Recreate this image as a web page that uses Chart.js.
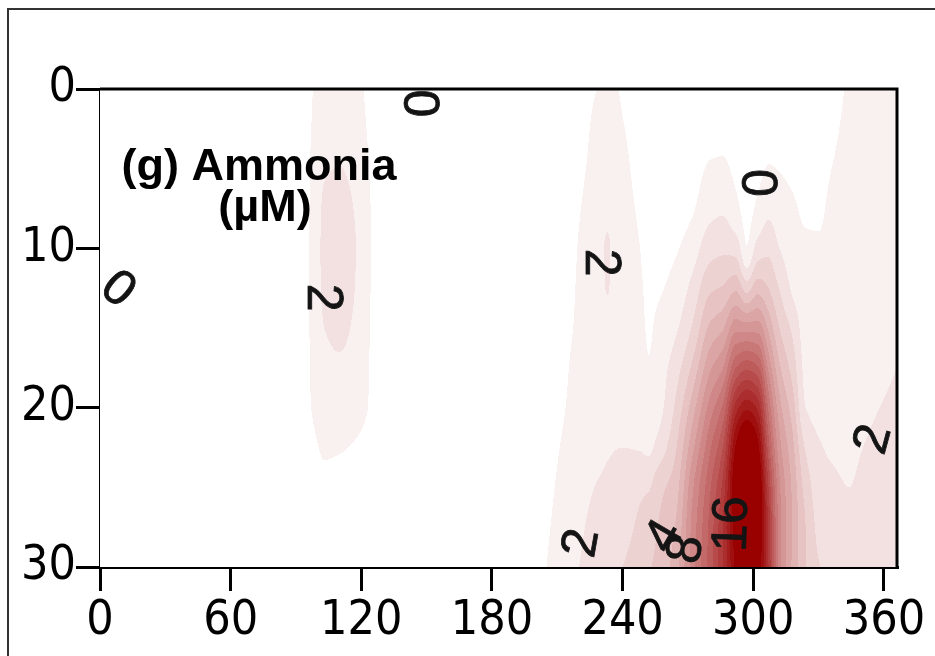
<!DOCTYPE html>
<html>
<head>
<meta charset="utf-8">
<script src="https://cdn.jsdelivr.net/npm/chart.js@4.4.0/dist/chart.umd.min.js"></script>
<style>
    html, body { margin: 0; padding: 0; background: #fff; }
    #wrap { position: relative; width: 935px; height: 656px; }
</style>
</head>
<body>
<div id="wrap"><canvas id="chart" width="935" height="656"></canvas></div>
<script>
// day of year (columns of the section)
const days = [0, 30, 60, 90, 97, 103, 110, 117, 123, 130, 160, 190, 205, 212, 220, 227, 233, 240, 248, 252,
    256, 264, 272, 280, 286, 292, 297, 302, 307, 312, 318, 324, 330, 336, 344, 352, 360, 366];
// depth (m), top to bottom
const depths = [0, 2.5, 5, 7.5, 10, 12.5, 15, 17.5, 20, 22.5, 25, 27.5, 30];
// ammonia (uM) for each day column, one value per depth
const ammonia = [
    [0.3, 0.3, 0.3, 0.3, 0.3, 0.3, 0.3, 0.3, 0.3, 0.3, 0.3, 0.3, 0.3],
    [0.4, 0.4, 0.4, 0.4, 0.4, 0.4, 0.4, 0.4, 0.4, 0.4, 0.4, 0.4, 0.4],
    [0.4, 0.4, 0.4, 0.4, 0.4, 0.4, 0.4, 0.4, 0.4, 0.4, 0.4, 0.4, 0.4],
    [0.6, 0.6, 0.6, 0.6, 0.6, 0.6, 0.6, 0.6, 0.6, 0.6, 0.6, 0.6, 0.6],
    [0.95, 1.0, 1.05, 1.08, 1.1, 1.1, 1.08, 1.05, 1.0, 0.8, 0.6, 0.5, 0.5],
    [1.4, 1.6, 1.9, 2.15, 2.25, 2.2, 2.0, 1.7, 1.4, 1.1, 0.8, 0.6, 0.5],
    [1.6, 1.8, 2.02, 2.3, 2.45, 2.4, 2.2, 1.85, 1.45, 1.05, 0.8, 0.6, 0.5],
    [1.3, 1.5, 1.75, 1.95, 2.05, 2.0, 1.85, 1.55, 1.25, 0.95, 0.7, 0.55, 0.5],
    [0.85, 0.95, 1.05, 1.15, 1.2, 1.15, 1.1, 1.05, 1.0, 0.8, 0.6, 0.5, 0.5],
    [0.5, 0.5, 0.5, 0.5, 0.5, 0.5, 0.5, 0.5, 0.5, 0.5, 0.5, 0.5, 0.5],
    [0.4, 0.4, 0.4, 0.4, 0.4, 0.4, 0.4, 0.4, 0.4, 0.4, 0.4, 0.4, 0.4],
    [0.4, 0.4, 0.4, 0.4, 0.4, 0.4, 0.4, 0.4, 0.4, 0.4, 0.4, 0.4, 0.4],
    [0.5, 0.5, 0.5, 0.5, 0.5, 0.5, 0.5, 0.5, 0.6, 0.7, 0.8, 0.9, 1.0],
    [0.55, 0.55, 0.6, 0.6, 0.65, 0.7, 0.75, 0.8, 0.9, 1.05, 1.2, 1.35, 1.5],
    [0.6, 0.65, 0.8, 0.95, 1.05, 1.1, 1.15, 1.3, 1.4, 1.55, 1.7, 1.85, 2.0],
    [0.95, 1.15, 1.3, 1.45, 1.6, 1.6, 1.6, 1.65, 1.75, 1.85, 2.0, 2.2, 2.4],
    [1.2, 1.4, 1.6, 1.85, 2.05, 2.02, 1.8, 1.75, 1.8, 1.95, 2.1, 2.35, 2.6],
    [0.9, 1.05, 1.2, 1.3, 1.4, 1.45, 1.5, 1.6, 1.8, 2.0, 2.3, 2.7, 3.0],
    [0.55, 0.65, 0.75, 0.88, 1.0, 1.1, 1.2, 1.4, 1.65, 1.95, 2.8, 3.2, 3.4],
    [0.4, 0.45, 0.55, 0.65, 0.75, 0.85, 0.92, 1.05, 1.3, 1.8, 2.9, 3.6, 3.9],
    [0.3, 0.35, 0.45, 0.55, 0.7, 0.9, 1.15, 1.4, 1.6, 2.3, 3.6, 4.0, 4.2],
    [0.25, 0.3, 0.4, 0.6, 0.9, 1.3, 1.8, 2.5, 3.1, 3.8, 4.5, 5.0, 5.5],
    [0.3, 0.4, 0.6, 0.9, 1.5, 2.3, 3.1, 4.2, 5.5, 6.7, 7.8, 8.3, 8.5],
    [0.5, 0.7, 1.1, 1.7, 2.6, 3.8, 5.2, 6.8, 8.4, 9.8, 10.8, 11.3, 11.5],
    [0.5, 0.75, 1.15, 1.85, 2.8, 4.1, 5.9, 8.0, 10.2, 12.0, 13.3, 14.0, 14.0],
    [0.35, 0.5, 0.8, 1.25, 2.6, 4.8, 7.7, 11.0, 14.5, 17.2, 18.5, 18.0, 17.5],
    [0.25, 0.35, 0.5, 0.7, 1.05, 3.6, 7.6, 11.8, 15.8, 19.5, 22.0, 22.0, 21.0],
    [0.3, 0.45, 0.75, 1.2, 2.4, 4.6, 7.6, 11.2, 14.8, 17.5, 19.0, 19.0, 18.0],
    [0.45, 0.7, 1.05, 1.75, 2.75, 4.0, 5.8, 7.8, 9.8, 11.5, 13.0, 13.8, 14.0],
    [0.4, 0.6, 0.97, 1.4, 2.0, 2.95, 4.0, 5.2, 6.4, 7.4, 8.2, 8.5, 8.5],
    [0.35, 0.5, 0.8, 1.15, 1.5, 1.85, 2.8, 3.6, 4.5, 5.3, 5.8, 6.0, 5.8],
    [0.35, 0.45, 0.6, 0.85, 1.15, 1.35, 1.55, 1.75, 2.0, 2.9, 3.6, 4.0, 4.0],
    [0.4, 0.5, 0.65, 0.85, 1.1, 1.25, 1.4, 1.55, 1.75, 2.1, 2.5, 2.8, 3.05],
    [0.6, 0.8, 1.0, 1.2, 1.3, 1.4, 1.5, 1.6, 1.75, 1.9, 2.2, 2.6, 2.8],
    [1.1, 1.2, 1.3, 1.35, 1.4, 1.45, 1.5, 1.6, 1.7, 1.85, 2.0, 2.4, 2.6],
    [1.2, 1.3, 1.35, 1.4, 1.45, 1.5, 1.6, 1.7, 1.85, 2.05, 2.3, 2.5, 2.6],
    [1.25, 1.35, 1.4, 1.45, 1.5, 1.6, 1.7, 1.85, 2.05, 2.3, 2.5, 2.6, 2.7],
    [1.3, 1.4, 1.45, 1.5, 1.6, 1.7, 1.8, 2.0, 2.2, 2.4, 2.6, 2.7, 2.8],
];
// contour levels (one colour band between each pair)
const levels = [0, 1, 2, 3, 4, 5, 6, 7, 8, 9, 10, 11, 12, 13, 14, 15, 16, 17];
// contour labels
const labelText = ['0', '0', '2', '2', '0', '2', '2', '4', '8', '16'];
const labelDays = [146, 8, 102, 229.5, 301, 355.5, 221.5, 259.5, 269.5, 290.5];
const labelDepths = [0.9, 12.6, 13.1, 10.9, 5.9, 22, 28.5, 28.1, 28.9, 27.3];
const labelAngles = [90, 40, 90, 90, 90, -75, -80, -60, -80, -88];
// axis ticks
const xTicks = [0, 60, 120, 180, 240, 300, 360];
const yTicks = [0, 10, 20, 30];

// band colours: white for the lowest band, then towards dark red
const lowColor = [255, 255, 255];
const highColor = [153, 0, 0];
const bandColors = levels.map((lv, i) => {
    let t = i / (levels.length - 1);
    return lowColor.map((c, k) => Math.round(c + (highColor[k] - c) * t));
});

// monotone cubic slopes
function getSlopes(xs, vs) {
    let n = xs.length;
    let d = [];
    let m = new Array(n);
    for (let i = 0; i < n - 1; i++) d.push((vs[i + 1] - vs[i]) / (xs[i + 1] - xs[i]));
    m[0] = d[0];
    m[n - 1] = d[n - 2];
    for (let i = 1; i < n - 1; i++) {
        if (d[i - 1] * d[i] <= 0) {
            m[i] = 0;
        } else {
            let h0 = xs[i] - xs[i - 1];
            let h1 = xs[i + 1] - xs[i];
            let w1 = 2 * h1 + h0;
            let w2 = h1 + 2 * h0;
            m[i] = (w1 + w2) / (w1 / d[i - 1] + w2 / d[i]);
        }
    }
    return m;
}

function hermite(xs, vs, ms, x) {
    let i = 0;
    while (i < xs.length - 2 && x > xs[i + 1]) i++;
    let h = xs[i + 1] - xs[i];
    let t = Math.min(Math.max((x - xs[i]) / h, 0), 1);
    let t2 = t * t;
    let t3 = t2 * t;
    return (2 * t3 - 3 * t2 + 1) * vs[i] + (t3 - 2 * t2 + t) * h * ms[i] +
        (-2 * t3 + 3 * t2) * vs[i + 1] + (t3 - t2) * h * ms[i + 1];
}

function bandOf(v) {
    let k = 0;
    for (let i = 1; i < levels.length; i++) if (v >= levels[i]) k = i;
    return k;
}

// filled contour field drawn through the chart scales
const fieldPlugin = {
    id: 'field',
    beforeDatasetsDraw(chart) {
        let area = chart.chartArea;
        let xs = chart.scales.x;
        let ys = chart.scales.y;
        let w = Math.round(area.right - area.left);
        let h = Math.round(area.bottom - area.top);
        let rows = depths.map((z, j) => ammonia.map((col) => col[j]));
        let rowSlopes = rows.map((r) => getSlopes(days, r));
        let off = document.createElement('canvas');
        off.width = w;
        off.height = h;
        let octx = off.getContext('2d');
        let img = octx.createImageData(w, h);
        let depthAt = [];
        for (let py = 0; py < h; py++) depthAt.push(ys.getValueForPixel(area.top + py + 0.5));
        for (let px = 0; px < w; px++) {
            let day = xs.getValueForPixel(area.left + px + 0.5);
            let colVals = rows.map((r, j) => hermite(days, r, rowSlopes[j], day));
            let colSlopes = getSlopes(depths, colVals);
            for (let py = 0; py < h; py++) {
                let v = hermite(depths, colVals, colSlopes, depthAt[py]);
                let c = bandColors[bandOf(v)];
                let p = (py * w + px) * 4;
                img.data[p] = c[0];
                img.data[p + 1] = c[1];
                img.data[p + 2] = c[2];
                img.data[p + 3] = 255;
            }
        }
        octx.putImageData(img, 0, 0);
        chart.ctx.drawImage(off, area.left, area.top);
    },
};

// frame, contour labels, title
const decorPlugin = {
    id: 'decor',
    afterDraw(chart) {
        let ctx = chart.ctx;
        let area = chart.chartArea;
        let xs = chart.scales.x;
        let ys = chart.scales.y;
        ctx.save();
        // contour labels
        ctx.fillStyle = '#141414';
        ctx.font = '50px "Liberation Sans", Arial, sans-serif';
        ctx.textAlign = 'center';
        ctx.textBaseline = 'middle';
        for (let i = 0; i < labelText.length; i++) {
            ctx.save();
            ctx.translate(xs.getPixelForValue(labelDays[i]), ys.getPixelForValue(labelDepths[i]));
            ctx.rotate((labelAngles[i] * Math.PI) / 180);
            ctx.fillText(labelText[i], 0, 0);
            ctx.strokeStyle = '#141414';
            ctx.lineWidth = 0.8;
            ctx.strokeText(labelText[i], 0, 0);
            ctx.restore();
        }
        // title
        ctx.fillStyle = '#000';
        ctx.font = 'bold 45px "Liberation Sans", Arial, sans-serif';
        ctx.textBaseline = 'alphabetic';
        ctx.fillText('(g) Ammonia', 259, 180);
        ctx.fillText('(µM)', 265, 221);
        // top and right of the plot box
        ctx.strokeStyle = '#000';
        ctx.lineWidth = 3;
        ctx.beginPath();
        ctx.moveTo(area.left, area.top);
        ctx.lineTo(area.right, area.top);
        ctx.lineTo(area.right, area.bottom);
        ctx.stroke();
        // outer figure frame
        ctx.strokeStyle = '#333';
        ctx.lineWidth = 2;
        ctx.strokeRect(8, 9, 1000, 1000);
        ctx.restore();
    },
};

const tickFont = { family: '"Liberation Sans Narrow", "Arial Narrow", "DejaVu Sans Condensed", sans-serif', size: 48 };

new Chart(document.getElementById('chart'), {
    type: 'scatter',
    data: {
        datasets: [
            {
                data: labelDays.map((d, i) => ({ x: d, y: labelDepths[i] })),
                pointRadius: 0,
                showLine: false,
            },
        ],
    },
    options: {
        responsive: false,
        animation: false,
        devicePixelRatio: 1,
        layout: { padding: { left: 0, top: 89, right: 38, bottom: 0 } },
        plugins: { legend: { display: false }, tooltip: { enabled: false } },
        scales: {
            x: {
                type: 'linear',
                min: 0,
                max: 366,
                afterBuildTicks: (s) => { s.ticks = xTicks.map((v) => ({ value: v })); },
                afterFit: (s) => { s.height = 89; },
                grid: { drawOnChartArea: false, drawTicks: true, tickLength: 24, color: '#000', lineWidth: 3 },
                border: { display: true, color: '#000', width: 3 },
                ticks: { font: tickFont, color: '#000', padding: 2, maxRotation: 0, autoSkip: false },
            },
            y: {
                type: 'linear',
                reverse: true,
                min: 0,
                max: 30,
                afterBuildTicks: (s) => { s.ticks = yTicks.map((v) => ({ value: v })); },
                afterFit: (s) => { s.width = 100; },
                grid: { drawOnChartArea: false, drawTicks: true, tickLength: 24, color: '#000', lineWidth: 3 },
                border: { display: true, color: '#000', width: 3 },
                ticks: { font: tickFont, color: '#000', padding: 0, autoSkip: false },
            },
        },
    },
    plugins: [fieldPlugin, decorPlugin],
});
</script>
</body>
</html>
